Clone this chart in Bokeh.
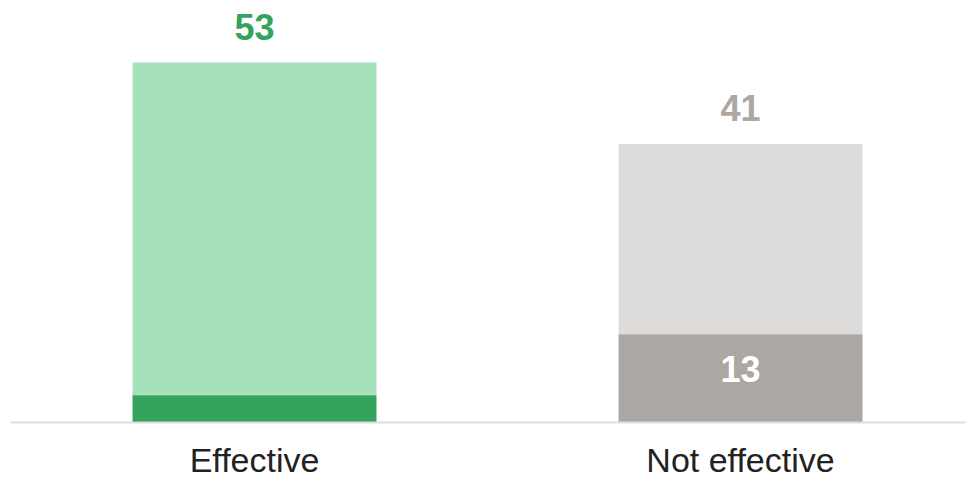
from bokeh.plotting import figure
from bokeh.models import ColumnDataSource, Range1d, Span
from bokeh.core.properties import value
from bokeh.embed import file_html
from bokeh.resources import INLINE

categories = ["Effective", "Not effective"]
totals = [53, 41]
highlights = [4, 13]
total_labels = ["53", "41"]
highlight_labels = ["", "13"]
light_colors = ["#a6e1bb", "#dddcdb"]
dark_colors = ["#33a35d", "#aca7a3"]
label_colors = ["#33a35d", "#aca7a3"]

xs = [i + 1 for i in range(len(categories))]

src = ColumnDataSource(dict(
    x=xs, cat=categories, total=totals, hl=highlights, tl=total_labels,
    hlab=highlight_labels, light=light_colors, dark=dark_colors, lc=label_colors,
    base=[0] * len(categories),
))

p = figure(width=966, height=479, output_backend="svg", toolbar_location=None,
           x_range=Range1d(0.4979, 2.4650), y_range=Range1d(-8.4, 62.15),
           min_border_left=10, min_border_right=0, min_border_top=0,
           min_border_bottom=0, x_axis_location=None, y_axis_location=None)
p.outline_line_color = None
p.xgrid.visible = False
p.ygrid.visible = False
p.background_fill_color = "white"
p.border_fill_color = "white"

p.vbar(x="x", bottom="hl", top="total", width=0.502, fill_color="light",
       line_color=None, source=src)
p.vbar(x="x", bottom=0, top="hl", width=0.502, fill_color="dark",
       line_color=None, source=src)

p.add_layout(Span(location=0, dimension="width", line_color="#dddddd",
                  line_width=2))

p.text(x="x", y="total", text="tl", text_color="lc", text_align="center",
       text_baseline="alphabetic", y_offset=-36, text_font=value("Liberation Sans"),
       text_font_size="36px", text_font_style="bold", source=src)
p.text(x="x", y="hl", text="hlab", text_color="white", text_align="center",
       text_baseline="alphabetic", y_offset=35, text_font=value("Liberation Sans"),
       text_font_size="36px", text_font_style="bold", source=src)

# category (tick) labels below the baseline
p.text(x="x", y="base", text="cat", text_color="#222222", text_align="center",
       text_baseline="alphabetic", y_offset=38, text_font=value("Liberation Sans"),
       text_font_size="34px", source=src)

open("out.html", "w").write(file_html(p, INLINE))
